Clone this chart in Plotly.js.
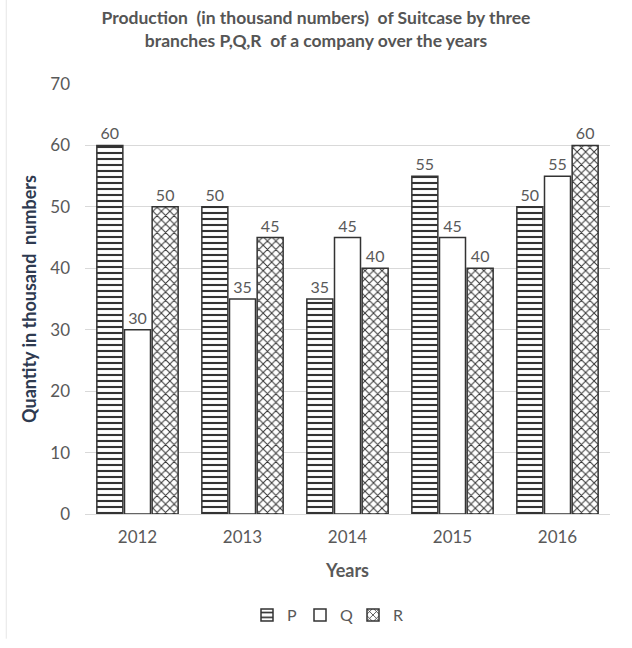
<!DOCTYPE html>
<html>
<head>
<meta charset="utf-8">
<script src="https://cdn.plot.ly/plotly-3.0.1.min.js"></script>
<style>html,body{margin:0;padding:0;background:#fff;}#chart{width:632px;height:648px;}</style>
</head>
<body>
<div id="chart"></div>
<script>
var years = ['2012', '2013', '2014', '2015', '2016'];
var seriesP = [60, 50, 35, 55, 50];
var seriesQ = [30, 35, 45, 45, 55];
var seriesR = [50, 45, 40, 40, 60];
var yTicks = [0, 10, 20, 30, 40, 50, 60, 70];

var FONT = 'Lato, "Open Sans", sans-serif';
var lineStyle = {color: '#333333', width: 1.5};

function bar(name, vals, marker) {
  return {
    type: 'bar', name: name, x: years, y: vals,
    text: vals.map(String), textposition: 'outside', cliponaxis: false, constraintext: 'none',
    textfont: {family: FONT, size: 16, color: '#595959'},
    marker: marker, hoverinfo: 'none'
  };
}

var traces = [
  bar('P', seriesP, {color: '#ffffff', line: lineStyle,
    pattern: {shape: '-', size: 6, solidity: 0.35, fgcolor: '#333333', bgcolor: '#ffffff'}}),
  bar('Q', seriesQ, {color: '#ffffff', line: lineStyle}),
  bar('R', seriesR, {color: '#ffffff', line: lineStyle,
    pattern: {shape: 'x', size: 6, solidity: 0.3, fgcolor: '#333333', bgcolor: '#ffffff'}})
];

var layout = {
  width: 632, height: 648,
  margin: {l: 85, r: 22, t: 84, b: 134},
  paper_bgcolor: '#ffffff', plot_bgcolor: '#ffffff',
  font: {family: FONT, color: '#595959'},
  barmode: 'group', bargap: 0.21, bargroupgap: 0.06,
  showlegend: true,
  title: {
    text: '<b>Production  (in thousand numbers)  of Suitcase by three<br>branches P,Q,R  of a company over the years</b>',
    font: {family: FONT, size: 17.5, color: '#555555'},
    x: 0.5, xanchor: 'center', y: 1 - 24 / 648, yanchor: 'middle', yref: 'container'
  },
  xaxis: {
    type: 'category', showgrid: false, showline: true, linecolor: '#d9d9d9', linewidth: 1,
    ticks: '', ticklabelstandoff: 8, tickfont: {family: FONT, size: 17, color: '#595959'},
    title: {text: '<b>Years</b>', font: {family: FONT, size: 18, color: '#595959'}, standoff: 17}
  },
  yaxis: {
    range: [0, 70], tickvals: yTicks, ticktext: yTicks.map(String),
    showgrid: true, gridcolor: '#d9d9d9', gridwidth: 1, zeroline: false, showline: false,
    ticks: '', ticklabelstandoff: 14, tickfont: {family: FONT, size: 17, color: '#595959'},
    title: {text: '<b>Quantity in thousand  numbers</b>', font: {family: FONT, size: 18, color: '#2e3a50'}, standoff: 8}
  },
  legend: {
    orientation: 'h', x: 0.46, xanchor: 'center', y: -0.235, yanchor: 'middle',
    font: {family: FONT, size: 16, color: '#595959'}, itemwidth: 30, tracegroupgap: 0,
    entrywidth: 8, entrywidthmode: 'pixels'
  },
  shapes: [
    {type: 'line', xref: 'paper', yref: 'paper', x0: -0.15, x1: -0.15, y0: -0.29, y1: 1.2,
     line: {color: '#e6e6e6', width: 1}}
  ]
};

Plotly.newPlot('chart', traces, layout, {displayModeBar: false, staticPlot: true});
</script>
</body>
</html>
